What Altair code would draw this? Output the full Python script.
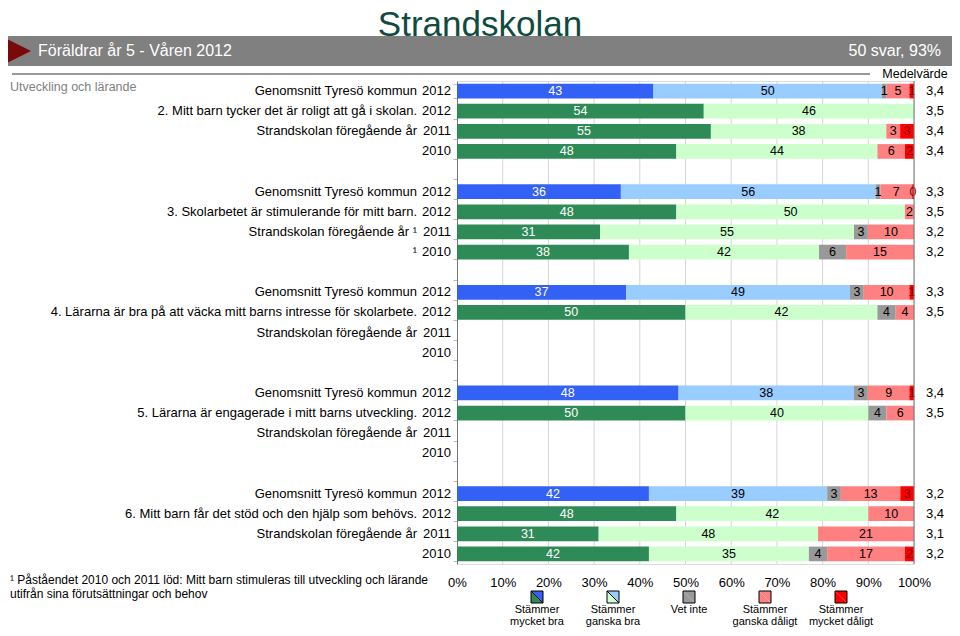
import altair as alt
import pandas as pd

FONT = "Liberation Sans"

categories = ["Stämmer mycket bra", "Stämmer ganska bra", "Vet inte",
              "Stämmer ganska dåligt", "Stämmer mycket dåligt"]
legend_labels = ["Stämmer\nmycket bra", "Stämmer\nganska bra", "Vet inte",
                 "Stämmer\nganska dåligt", "Stämmer\nmycket dåligt"]

questions = [
    "2.  Mitt barn tycker det är roligt att gå i skolan.",
    "3.  Skolarbetet är stimulerande för mitt barn.",
    "4.  Lärarna är bra på att väcka mitt barns intresse för skolarbete.",
    "5.  Lärarna är engagerade i mitt barns utveckling.",
    "6.  Mitt barn får det stöd och den hjälp som behövs.",
]
row_years = ["2012", "2012", "2011", "2010"]
row_names = ["Genomsnitt Tyresö kommun", None, "Strandskolan föregående år", ""]
footnoted_rows = {(1, 2), (1, 3)}

# values per row: [mycket bra, ganska bra, vet inte, ganska dåligt, mycket dåligt]
q2_values = [[43, 50, 1, 5, 1], [54, 46, 0, 0, 0], [55, 38, 0, 3, 3], [48, 44, 0, 6, 2]]
q3_values = [[36, 56, 1, 7, 0.4], [48, 50, 0, 2, 0], [31, 55, 3, 10, 0], [38, 42, 6, 15, 0]]
q4_values = [[37, 49, 3, 10, 1], [50, 42, 4, 4, 0], None, None]
q5_values = [[48, 38, 3, 9, 1], [50, 40, 4, 6, 0], None, None]
q6_values = [[42, 39, 3, 13, 3], [48, 42, 0, 10, 0], [31, 48, 0, 21, 0], [42, 35, 4, 17, 2]]
all_values = [q2_values, q3_values, q4_values, q5_values, q6_values]

q2_means = ["3,4", "3,5", "3,4", "3,4"]
q3_means = ["3,3", "3,5", "3,2", "3,2"]
q4_means = ["3,3", "3,5", "", ""]
q5_means = ["3,4", "3,5", "", ""]
q6_means = ["3,2", "3,4", "3,1", "3,2"]
all_means = [q2_means, q3_means, q4_means, q5_means, q6_means]

x_ticks = [i / 10 for i in range(11)]

kommun_colors = ["#3461f5", "#99ccff", "#999999", "#ff8080", "#ff0000"]
skola_colors = ["#2e8b57", "#ccffcc", "#999999", "#ff8080", "#ff0000"]
text_colors = ["white", "black", "black", "black", "#7a0000"]

# ---------- build tables ----------
row_domain = []
seg_rows, lab_rows = [], []
for g, (q, vals, means) in enumerate(zip(questions, all_values, all_means)):
    for r in range(4):
        rid = f"g{g}r{r}"
        row_domain.append(rid)
        desc = q if row_names[r] is None else row_names[r]
        if (g, r) in footnoted_rows:
            desc = (desc + " ¹").strip()
        lab_rows.append({"row": rid, "year": row_years[r], "desc": desc, "mean": means[r]})
        v = vals[r]
        if v is None:
            continue
        tot = sum(v)
        cum = 0.0
        for c, val in enumerate(v):
            start = cum / tot
            cum += val
            end = cum / tot
            if val <= 0:
                continue
            seg_rows.append({
                "row": rid, "cat": categories[c], "start": start, "end": end,
                "mid": (start + end) / 2, "label": str(int(round(val))),
                "fill": (kommun_colors if r == 0 else skola_colors)[c],
                "tcol": text_colors[c],
            })
    if g < len(questions) - 1:
        row_domain.append(f"gap{g}")

seg_df = pd.DataFrame(seg_rows)
lab_df = pd.DataFrame(lab_rows)
grid_df = pd.DataFrame({"v": x_ticks[1:-1]})

W, H = 457, 483

yscale = alt.Scale(domain=row_domain, paddingInner=0.27, paddingOuter=0.135)
yaxis = alt.Axis(labels=False, title=None, ticks=True, tickBand="extent",
                 tickSize=4, tickColor="#bbbbbb", domainColor="#777777", grid=False)
xscale = alt.Scale(domain=[0, 1], nice=False, zero=False)
xaxis = alt.Axis(format=".0%", values=x_ticks, title=None,
                 domain=False, ticks=False, labelPadding=12, labelFontSize=13,
                 labelOverlap=False, labelFlush=False, labelColor="black",
                 labelFont=FONT, grid=False)

grid = alt.Chart(grid_df).mark_rule(color="#d6d6d6", strokeWidth=1).encode(
    x=alt.X("v:Q", scale=xscale, axis=xaxis), y=alt.value(0), y2=alt.value(H)
)

bars = alt.Chart(seg_df).mark_bar().encode(
    y=alt.Y("row:N", scale=yscale, sort=None, axis=yaxis),
    x=alt.X("start:Q", scale=xscale, axis=xaxis),
    x2="end:Q",
    color=alt.Color("fill:N", scale=None),
)

seg_text = alt.Chart(seg_df).mark_text(fontSize=12.5, font=FONT).encode(
    y=alt.Y("row:N", scale=yscale, sort=None, axis=yaxis),
    x=alt.X("mid:Q", scale=xscale, axis=xaxis),
    text="label:N",
    color=alt.Color("tcol:N", scale=None),
)

right_rule = alt.Chart(pd.DataFrame({"v": [1]})).mark_rule(color="#777777").encode(
    x=alt.X("v:Q", scale=xscale, axis=xaxis), y=alt.value(0), y2=alt.value(H)
)

main = alt.layer(grid, bars, seg_text, right_rule)

year_text = alt.Chart(lab_df).mark_text(align="right", fontSize=13, font=FONT).encode(
    y=alt.Y("row:N", scale=yscale, sort=None, axis=yaxis), x=alt.value(-6), text="year:N")
desc_text = alt.Chart(lab_df).mark_text(align="right", fontSize=13, font=FONT).encode(
    y=alt.Y("row:N", scale=yscale, sort=None, axis=yaxis), x=alt.value(-40), text="desc:N")
mean_text = alt.Chart(lab_df).mark_text(align="center", fontSize=13, font=FONT).encode(
    y=alt.Y("row:N", scale=yscale, sort=None, axis=yaxis), x=alt.value(478), text="mean:N")

# ---------- legend ----------
leg_df = pd.DataFrame({
    "cat": categories,
    "lab": legend_labels,
    "lower": skola_colors,
    "upper": kommun_colors,
})
lx = alt.X("cat:N", scale=alt.Scale(domain=categories, range=[80, 384], padding=0), axis=None)
LY = 516
SZ = 144
leg_lower = alt.Chart(leg_df).mark_point(
    shape="M-1,-1L-1,1L1,1Z", filled=True, size=SZ, opacity=1).encode(
    x=lx, y=alt.value(LY), color=alt.Color("lower:N", scale=None))
leg_upper = alt.Chart(leg_df).mark_point(
    shape="M-1,-1L1,-1L1,1Z", filled=True, size=SZ, opacity=1).encode(
    x=lx, y=alt.value(LY), color=alt.Color("upper:N", scale=None))
leg_box = alt.Chart(leg_df).mark_point(
    shape="square", filled=False, size=SZ, color="black", strokeWidth=1, opacity=1).encode(
    x=lx, y=alt.value(LY))
leg_diag = alt.Chart(leg_df.iloc[:2]).mark_point(
    shape="M-1,-1L1,1", filled=False, size=SZ, color="black", strokeWidth=1, opacity=1).encode(
    x=lx, y=alt.value(LY))
leg_text = alt.Chart(leg_df).mark_text(
    baseline="top", fontSize=11, font=FONT, lineBreak="\n", lineHeight=12).encode(
    x=lx, y=alt.value(LY + 7), text="lab:N")
legend = alt.layer(leg_lower, leg_upper, leg_box, leg_diag, leg_text)


# ---------- decorations ----------
def deco_text(t, x, y, **kw):
    return alt.Chart(pd.DataFrame({"t": [t]})).mark_text(font=FONT, **kw).encode(
        x=alt.value(x), y=alt.value(y), text="t:N")


banner = alt.Chart(pd.DataFrame({"a": [0]})).mark_rect(color="#808080").encode(
    x=alt.value(-460), x2=alt.value(510), y=alt.value(-45), y2=alt.value(-15))
triangle = alt.Chart(pd.DataFrame({"a": [0]})).mark_point(
    shape="M-1,-1L1,0L-1,1Z", filled=True, size=784, color="#7a0a0a", opacity=1).encode(
    x=alt.value(-440), y=alt.value(-30))
head_line = alt.Chart(pd.DataFrame({"a": [0]})).mark_rule(color="#999999", strokeWidth=2).encode(
    x=alt.value(-445), x2=alt.value(413), y=alt.value(-7))

title = deco_text("Strandskolan", 23, -45, fontSize=35, color="#0f4c3f", align="center",
                  baseline="alphabetic")
banner_left = deco_text("Föräldrar år 5 - Våren 2012", -419, -30, fontSize=16, color="white",
                        align="left", baseline="middle")
banner_right = deco_text("50 svar, 93%", 484, -30, fontSize=16, color="white",
                         align="right", baseline="middle")
medel = deco_text("Medelvärde", 458, -7, fontSize=12.5, color="black", align="center",
                  baseline="middle")
section = deco_text("Utveckling och lärande", -447, 6, fontSize=12.5, color="#808080",
                    align="left", baseline="middle")
foot1 = deco_text("¹ Påståendet 2010 och 2011 löd: Mitt barn stimuleras till utveckling och lärande",
                  -447, 499, fontSize=12, color="black", align="left", baseline="middle")
foot2 = deco_text("utifrån sina förutsättningar och behov", -447, 513, fontSize=12,
                  color="black", align="left", baseline="middle")

chart = alt.layer(
    banner, triangle, head_line, title, banner_left, banner_right, medel, section,
    main, year_text, desc_text, mean_text, foot1, foot2, legend,
).resolve_scale(x="independent").properties(
    width=W, height=H,
    autosize=alt.AutoSizeParams(type="none"),
    padding={"left": 449, "top": 73, "right": 38, "bottom": 64},
).configure_view(stroke=None).configure(font=FONT)

chart.save("out.html", embed_options={"renderer": "svg", "actions": False})
